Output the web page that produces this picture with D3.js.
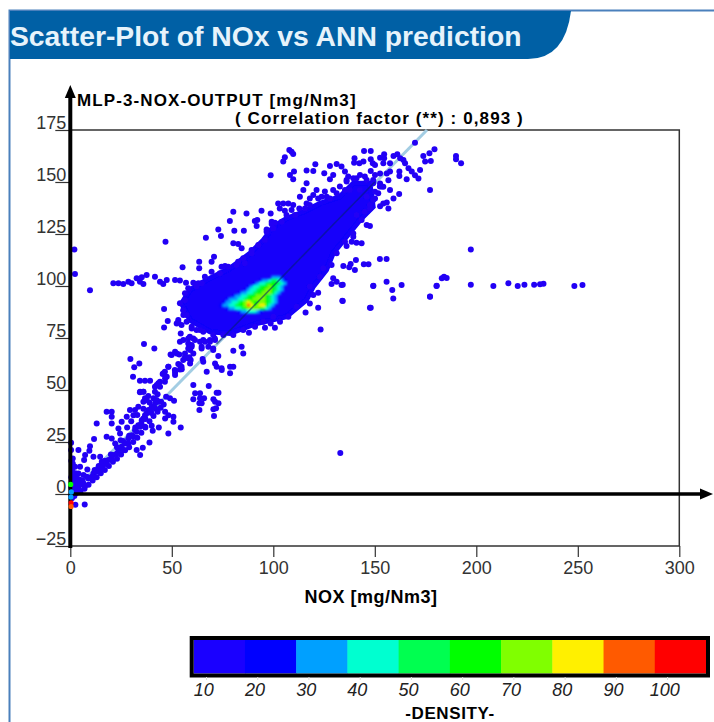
<!DOCTYPE html>
<html>
<head>
<meta charset="utf-8">
<script src="https://cdn.jsdelivr.net/npm/d3@7"></script>
<style>
html, body { margin: 0; padding: 0; background: #fff; overflow: hidden; }
svg { display: block; font-family: "Liberation Sans", Arial, sans-serif; }
</style>
</head>
<body>
<svg id="chart" width="714" height="722"></svg>
<script>
// tick labels
var xTicks = [0, 50, 100, 150, 200, 250, 300];
var yTicks = [-25, 0, 25, 50, 75, 100, 125, 150, 175];

// legend
var densityLabels = [10, 20, 30, 40, 50, 60, 70, 80, 90, 100];
var densityColors = ["#1a00ff", "#0000ff", "#00a0ff", "#00ffd0", "#00ff50",
    "#00ff00", "#80ff00", "#fff000", "#ff5a00", "#ff0000"];

// ideal line, x = y
var idealLine = [[0, 0], [175.7, 175]];
var idealCore = [[72, 72], [150, 150]];

// outline of the solid blue part of the cloud
var cloudOutline = [[54.8,91.6],[58.9,98.1],[67.1,102.9],[78.6,108.5],[88.5,115.7],[95.1,122.1],
    [100,128.5],[106.5,132.5],[114.8,135.7],[123,139.7],[132.8,143],[139.4,149.4],[147.6,149.4],
    [149.2,138.1],[142.7,131.7],[136.1,123.7],[129.5,115.7],[126.2,107.7],[119.7,99.7],[116.4,93.3],
    [106.5,85.2],[91.8,82],[78.6,77.2],[68.8,78],[58.9,83.6]];

// density of the core, one digit per cell (tens of density), top row first
var coreX0 = 72, coreY0 = 105, coreCell = 1.5;
var coreRows = [
    "00000000000000000033320",
    "00000000000000233455432",
    "00000000000023445666543",
    "00000000002344566765430",
    "00000000023445667765430",
    "00000002334456677764300",
    "00000233445667776543000",
    "00023334456677776543000",
    "00233445678766776543000",
    "02334456679867886430000",
    "00023344567777654300000",
    "00000002334443200000000"
];

// points along the rim of the cloud
var rimPoints = [[56.5,93.2],[54,91.7],[55.6,88.4],[57.3,86],[53.2,82.8],[54.8,81.2],[59.8,80.4],[62.2,99.7],
    [64.7,101.3],[66.3,104.5],[69.6,106.9],[73.7,106.1],[77.8,109.3],[82.7,111.7],[86,110.9],[89.3,117.3],
    [92.6,119.7],[95.9,122.1],[96.7,126.1],[100,127.7],[99.2,130.9],[104.1,130.9],[106.5,134.1],[110.7,134.1],
    [115.6,137.3],[118,138.9],[122.1,142.1],[126.3,142.9],[131.2,144.6],[135.3,146.2],[136.1,151],[141,151.8],
    [145.1,152.6],[149.2,151],[62.2,78.8],[65.5,78],[70.4,76.4],[75.4,76.4],[80.3,76.4],[85.2,78.8],[91,80.4],
    [95.1,82.8],[100,85.2],[107.4,85.2],[111.5,90],[118,91.6],[119.7,95.7],[118,99.7],[123,104.5],[124.6,108.5],
    [128.7,110.1],[131.2,115.7],[135.3,121.3],[139.4,123.7],[143.5,131.7],[147.6,137.3],[149.2,141.3],
    [151.7,144.6],[153.3,147.8]];

// points above the cloud
var upperPoints = [[109,164.6],[107.9,165.4],[109.8,163.5],[105.7,161.9],[104.9,159.8],[98.7,153.2],
    [108.2,153.4],[110.2,155],[109.8,151.3],[116.4,155.5],[119.7,155.3],[120.7,158.5],[125.1,154.2],
    [127.9,157.7],[131.2,158.7],[133.6,157.4],[135.3,155],[136.9,152.6],[129.5,153.4],[127.9,151.3],
    [80.3,135.7],[86.8,134.9],[94.2,136.2],[98.7,134.9],[78.6,131.2],[72.9,127.2],[74.2,124],
    [66.8,123.2],[80.8,126.6],[85.5,126.6],[46.9,121.3],[90.9,131.2],[92.1,131.7],[91.8,128.8],
    [80.3,120.5],[82.7,120.2],[84.4,118.1],[70.8,114.1],[69.6,111.7],[63.5,111.7],[63.5,108.5],
    [55.3,109],[74.5,109.3],[76.2,109.6],[81.9,110.1],[85.2,113.3],[89.3,115.7],
    [102.4,139.7],[104.9,139.7],[107.4,139.7],[109.8,138.9],[103.2,137.3],[105.7,136.2],[109,136.5],
    [112.8,137.3],[99.2,129.8],[100.8,130.4],[96.7,127.2],[116.4,139.7],[118,142.1],[114.8,146.2],
    [116.4,149.4],[121.3,146.2],[125.4,145.4],[129.5,146.2],[132.8,147.8],[119.7,143.7],[123.8,142.9],
    [127.9,142.1],[113.1,142.9],[136.1,150.2],[139.4,151.8],[142.7,153.4],[146,151],[149.2,149.4],
    [152.5,147.8],[137.7,146.2],[142.7,146.2],[146,142.9],[147.6,138.9],[145.1,135.7],[141,134.1]];

// points in the upper right end of the cloud
var upperRightPoints = [[144.7,164.9],[148,164.9],[140,161.4],[139.8,159.3],[144.4,159.8],[142.4,159],
    [148,160.9],[149,159],[150.1,158.2],[154.6,163.4],[154.6,161.4],[152.6,161.7],[154.2,159],[157.5,159],
    [159.2,162.5],[161.1,163.3],[162.5,161.4],[164.1,160.6],[164.9,159],[166.6,156.6],[168.2,155],
    [172.3,155.8],[169.8,153.3],[171.5,151.7],[165.7,151.3],[162.1,155],[162.1,152.9],[157.5,155],
    [155.9,154.1],[152.6,154.1],[148,155.3],[150.1,153.4],[149.3,150.1],[152.6,149.3],[156.7,150.9],
    [154.2,147.7],[157.5,146.1],[150.1,145.3],[150.1,142.1],[162,144.2],[159.2,142.1],[155.9,140.2],
    [154.2,139.7],[152.6,138.4],[156.7,137.3],[173.9,162.5],[176.9,163.8],[179.4,165.7],[174.8,159.8],
    [177.6,160.1],[169.8,168.9],[177.2,146.1],[190,162.5],[190,160.9],[192.5,159]];

// points below and right of the cloud
var rightPoints = [[147.6,128.8],[146,129.3],[143.5,120.5],[139.4,125.3],[138.6,121.3],[141,120.8],
    [136.1,119.2],[140.7,112.5],[138.1,110.6],[134.5,109.6],[137.4,109],[140.2,107.7],[144.6,110.4],
    [146.9,110.4],[152.5,113],[155.8,113],[149.2,100],[155.8,102],[158.6,98.1],[163.2,100.5],[159.1,94],
    [147.6,89.6],[134,92.9],[129.5,103.7],[128.7,101],[131.2,102.1],[133.6,100.5],[122.1,96.8],[122.1,89.6],
    [115.9,87.2],[123.3,79.1],[103.3,82.8],[100.8,79.9],[95.9,79.9],[98.7,82],[88,77.5],[180.4,100],[177.2,94.9]];

// the run of points near y = 100 at high NOX, and single outliers
var farPoints = [[197.3,117.6],[134.2,100.6],[149.3,100.1],[177.2,94.8],[180.5,100.1],[183,103.7],
    [184.1,104.5],[185.4,103.8],[197.3,100.6],[208.4,100],[215.8,101.3],[220.4,100],[223.7,100.6],
    [228.5,100.6],[231.4,100.8],[233.1,101.1],[248.3,100],[252.3,100.5],[134.2,92.8],[148,89.5],[133,19.7]];

// the band to the left of the cloud
var leftPoints = [[2,117.5],[2.3,105.8],[9.7,98],[21.2,101.3],[23.7,101.3],[26.1,101],[28.6,102.1],
    [30.2,101.3],[32.7,103.7],[35.2,104.2],[37.6,105.3],[34.3,102.1],[36,101],[41.7,104.5],[44.2,102.1],
    [47.5,102.9],[51.6,102.9],[54,102.6],[57,101.6],[60.6,101.6],[63.1,101.3],[58.1,98.9],[56.5,96.5],
    [45.8,101],[46.2,88.9],[48,83.2],[46.2,80],[53.2,83.6],[52.4,82],[54.4,77.2],[36.3,72.1],[41.4,70],
    [55.7,86],[57.3,82.8],[59.8,79.6],[63.9,78.8],[54,73.2],[55.7,74]];

// cluster between the cloud and the diagonal
var midPoints = [[58.1,74.8],[60.6,74.8],[58.1,72.4],[59.8,70.8],[59,69.2],[63.9,73.2],[66.4,73.2],
    [68.8,74],[71.3,74],[64.7,70.8],[68,70.8],[70.4,70],[51.6,68.4],[49.4,67.1],[53.7,67.1],[56.5,67.6],
    [58.6,65.7],[59.3,64.4],[65.2,64.9],[72.1,61.2],[67.2,58.8],[71.3,62.8],
    [53.2,62.5],[54,59.9],[48.3,61.2],[45.5,57.7],[43.4,53.2],[41.7,51.6],[47.5,56.4],
    [51.6,57.2],[29.6,64.9],[34,62.8],
    [31.5,60.9],[30.9,56.4],[34.3,54.5],[36.8,54.5],[39.3,54.5],[34.3,48.9],[36,49.2],[38.4,47.1],
    [41.7,49.2],[44.2,51.6],[46.6,54],[58.9,75.6],[61.4,74],[59.8,71.6],[65.5,74],[68.8,73.2],
    [71.2,74.8],[64.7,70],[70.4,69.2],[58.1,70],[60.6,67.6],[56.5,66],[49.9,66.8],[52.4,67.6],[55.6,64.4],
    [58.1,65.2],[72.9,66.3],[65.5,63.6],[46.6,58.8],[51.5,59.6],[54.8,61.2],
    [74.5,60.4],[80.3,68.9],[84.4,70.8],[85.2,67.6]];

// the trace along the diagonal, from the origin up
var tracePoints = [[4,2.7],[6.5,5.1],[8.9,7.5],[11.4,9.9],[13.8,12.3],[16.3,13.9],[18.8,16.3],[21.2,18.7],
    [23.7,21.1],[25.3,22.7],[27,24.3],[28.6,26.7],[30.3,28.3],[31.9,30.7],[33.5,33.1],[35.2,35.5],
    [36.8,37.9],[38.5,40.4],[40.1,42],[41.8,43.6],[43.4,44.4],[36.8,46],[34.4,49.2],[36,49.2],[37.6,45.2],
    [42.6,52.4],[44.2,54],[46.7,55.6],[51.6,58.4],[45.9,58],[48.3,61.2],[54,62],[59,62.8],
    [54.9,60],[4.8,1.6],[7.3,3.8],[10.6,8.3],[13,10.7],[15.5,12.3],[17.9,14.7],[20.4,17.1],
    [22.9,19.5],[26.2,21.1],[28.6,24.3],[31.1,27.5],[32.7,29.9],[34.4,32.3],[36,36.3],[37.6,38.8],[39.3,40.4],
    [5,1],[7,2.5],[9,4.5],[11,6.5],[13,8],[15,10],[17,11.5],[19,13.5],[21,15.5],[23,17],[25,19],[27,21],
    [29,22.5],[31,25],[33,27],[35,29.5],[37,32],[39,35],[41,37.5],[43,39.5],[44.5,41.5],[46,43],[12,11.5],
    [14,13.5],[17,16],[20,19],[23,22.5],[26,25.5],[29,28],[32,32],[35,34],[37,36],[40,39],[42,41],
    [43,48],[41,46],[39,44],[36,41],[33,38],[30,35],[28,32]];

// points scattered around the trace
var lowerPoints = [[17.9,39.6],[20.4,39.6],[20.4,37.1],[13,33.9],[25.3,34.7],[23.7,31.5],[24.5,29.1],
    [27.8,37.1],[29.4,40.4],[31.9,40.4],[31.1,37.9],[33.5,42],[36,44.4],[20.4,33.9],[17.9,27.5],[11.7,26.4],
    [20.4,26.7],[22.1,24.3],[24.8,25.9],[9.7,23],[9.4,20.8],[7.3,18.7],[6.8,16.3],[4,21.1],[0.4,21.1],
    [0.4,24.6],[11.4,17.9],[14.7,17.9],[15.5,15.5],[4.8,13.1],[8.4,11.8],[1.2,17.1],[1.2,14.7],[2.3,13.1],
    [1.2,9.9],[4,9.9],[6.5,9.1],[8.1,8.3],[32.7,21.1],[34.4,18.7],[35.7,22.2],[39,24.8],[48.3,29.1],[43.6,32],
    [54.4,32],[40.1,32.8],[40.6,30.4],[36.8,32.3],[46.7,39.6],[48.3,37.9],[50.8,37.1],[50.8,34.7],[46.7,36.3],
    [49.1,46],[51.1,44.8],[47.2,46.8],[44.7,44.4],[42.6,45.2],[60.6,52.4],[68.2,51.9],[63.9,48.4],[61.5,48.4],
    [60.6,45.5],[63.9,46],[65.9,46],[63.6,43.6],[64.7,43.6],[70.5,45.5],[72.1,48.7],[73,48.7],[71.3,44.4],
    [73,43.6],[70.5,40.7],[71.8,41.2],[70.8,37.5],[63.6,40.4],[74.6,59.6],[78.7,61.2],[80.3,61.2],[78.7,58]];

// the corner at the origin
var originPoints = [[0.5,16],[1,12],[0.5,8],[2,7],[3,5],[1.5,4],[0.5,3],[4.5,7],[6,6.5],[3,2],[1.5,0.5],
    [2,-1],[0.8,-2],[2.5,-5.2],[7.1,-5],[1,10],[2.5,10],[1,6],[3,8],[2,3],[4,4],[5,4.5],[3,0.5],[1.5,2],[0.5,-1]];
var originDensity = [[0.2,4.6,60],[0.5,1,30],[0.3,-1.5,30],[0.4,-4.2,100],[0.4,-6,90]];

var svg = d3.select("#chart");

var x = d3.scaleLinear().domain([0, 300]).range([70.3, 679.3]);
var y = d3.scaleLinear().domain([-25, 175]).range([546, 130]);

svg.append("defs").append("filter").attr("id", "soft")
    .append("feGaussianBlur").attr("stdDeviation", 0.45);
d3.select("defs").append("filter").attr("id", "softer")
    .append("feGaussianBlur").attr("stdDeviation", 0.8);

// page frame and header
svg.append("path").attr("d", "M9.5,722V10.5H714").attr("fill", "none")
    .attr("stroke", "#4a80bc").attr("stroke-width", 2);
svg.append("path").attr("d", "M10,11H571Q565,59 528,59H10Z").attr("fill", "#0060a5");
svg.append("text").attr("x", 10).attr("y", 46)
    .attr("font-size", 28.3).attr("font-weight", "bold").attr("fill", "#e6f3fb")
    .text("Scatter-Plot of NOx vs ANN prediction");

// frame of the plot
svg.append("rect").attr("x", x(0)).attr("y", y(175))
    .attr("width", x(300) - x(0)).attr("height", y(-25) - y(175))
    .attr("fill", "none").attr("stroke", "#333").attr("stroke-width", 1.5);

var line = d3.line().x(function(d) { return x(d[0]); }).y(function(d) { return y(d[1]); });

var marks = svg.append("g").attr("filter", "url(#soft)");

marks.append("path").attr("d", line(idealLine)).attr("fill", "none")
    .attr("stroke", "#a3cde3").attr("stroke-width", 3);

marks.append("path").attr("d", line.curve(d3.curveLinearClosed)(cloudOutline))
    .attr("fill", "#1200fa").attr("stroke", "#1200fa").attr("stroke-width", 5);
line.curve(d3.curveLinear);

var allPoints = [].concat(rimPoints, upperPoints, upperRightPoints, rightPoints, farPoints,
    leftPoints, midPoints, tracePoints, lowerPoints, originPoints);

marks.append("g").selectAll("circle").data(allPoints).enter().append("circle")
    .attr("cx", function(d) { return x(d[0]); })
    .attr("cy", function(d) { return y(d[1]); })
    .attr("r", 3)
    .attr("fill", "#2200f5");

var color = d3.scaleOrdinal().domain(densityLabels).range(densityColors);

// density cells of the core
var cells = [];
coreRows.forEach(function(row, r) {
    row.split("").forEach(function(c, i) {
        if (c !== "0") cells.push({ col: i, row: r, value: +c * 10 });
    });
});

svg.append("g").attr("filter", "url(#softer)").selectAll("rect").data(cells).enter().append("rect")
    .attr("x", function(d) { return x(coreX0 + d.col * coreCell); })
    .attr("y", function(d) { return y(coreY0 - d.row * coreCell); })
    .attr("width", x(coreCell) - x(0) + 0.5)
    .attr("height", y(0) - y(coreCell) + 0.5)
    .attr("fill", function(d) { return color(d.value); });

// darker stretch of the ideal line where it crosses the cloud
svg.append("path").attr("d", line(idealCore)).attr("fill", "none")
    .attr("stroke", "#00206e").attr("stroke-width", 1.6).attr("stroke-opacity", 0.55)
    .attr("filter", "url(#soft)");

// axes
var xAxis = svg.append("g").attr("transform", "translate(0," + y(-25) + ")")
    .call(d3.axisBottom(x).tickValues(xTicks).tickSize(11).tickSizeOuter(0).tickPadding(4));
xAxis.select(".domain").remove();
xAxis.selectAll("line").attr("stroke", "#333").attr("stroke-width", 1.2);
xAxis.selectAll("text").attr("font-size", 18).attr("font-family", "Liberation Sans").attr("fill", "#333");

var yAxis = svg.append("g").attr("transform", "translate(" + x(0) + ",0)")
    .call(d3.axisLeft(y).tickValues(yTicks).tickSize(15).tickPadding(-10));
yAxis.select(".domain").remove();
yAxis.selectAll("line").attr("stroke", "#333").attr("stroke-width", 1.2);
yAxis.selectAll("text").attr("font-size", 18).attr("font-family", "Liberation Sans").attr("fill", "#333")
    .attr("text-anchor", "end").attr("x", -4).attr("dy", -1.5);

// heavy arrows over the frame
svg.append("line").attr("x1", x(0)).attr("x2", x(0)).attr("y1", 548).attr("y2", 96)
    .attr("stroke", "#000").attr("stroke-width", 4);
svg.append("path").attr("d", "M" + x(0) + ",85l-5.5,13h11Z").attr("fill", "#000");
svg.append("line").attr("x1", x(0)).attr("x2", 702).attr("y1", y(0)).attr("y2", y(0))
    .attr("stroke", "#000").attr("stroke-width", 3.5);
svg.append("path").attr("d", "M713," + y(0) + "l-13,-5.5v11Z").attr("fill", "#000");

// high density spots at the origin sit on top of the axis
svg.append("g").attr("filter", "url(#soft)").selectAll("circle").data(originDensity).enter().append("circle")
    .attr("cx", function(d) { return x(d[0]); })
    .attr("cy", function(d) { return y(d[1]); })
    .attr("r", 2.6)
    .attr("fill", function(d) { return color(d[2]); });

// titles
svg.append("text").attr("x", 77).attr("y", 106).attr("font-size", 17).attr("font-weight", "bold")
    .attr("letter-spacing", 1.1).text("MLP-3-NOX-OUTPUT [mg/Nm3]");
svg.append("text").attr("x", 235).attr("y", 124).attr("font-size", 17).attr("font-weight", "bold")
    .attr("letter-spacing", 1.1).text("( Correlation factor (**) : 0,893 )");
svg.append("text").attr("x", 371).attr("y", 603).attr("font-size", 18).attr("font-weight", "bold")
    .attr("letter-spacing", 0.5).attr("text-anchor", "middle").text("NOX [mg/Nm3]");

// density legend
var legendX = d3.scaleBand().domain(densityLabels).range([193.7, 706]);
var legendTop = 640, legendHeight = 33.5;

svg.append("g").selectAll("rect").data(densityLabels).enter().append("rect")
    .attr("x", function(d) { return legendX(d); })
    .attr("y", legendTop)
    .attr("width", legendX.bandwidth() + 0.5)
    .attr("height", legendHeight)
    .attr("fill", function(d) { return color(d); });
svg.append("rect").attr("x", 191.7).attr("y", legendTop - 2)
    .attr("width", 516.3).attr("height", legendHeight + 4)
    .attr("fill", "none").attr("stroke", "#000").attr("stroke-width", 4);

svg.append("g").selectAll("line").data(densityLabels).enter().append("line")
    .attr("x1", function(d) { return legendX(d) + legendX.bandwidth() / 4; })
    .attr("x2", function(d) { return legendX(d) + legendX.bandwidth() / 4; })
    .attr("y1", 677).attr("y2", 680).attr("stroke", "#ddd");

svg.append("g").selectAll("text").data(densityLabels).enter().append("text")
    .attr("x", function(d) { return legendX(d) + 10; })
    .attr("y", 696)
    .attr("text-anchor", "middle")
    .attr("font-size", 18).attr("font-style", "italic").attr("fill", "#222")
    .text(function(d) { return d; });

svg.append("text").attr("x", 450).attr("y", 719).attr("font-size", 17).attr("font-weight", "bold")
    .attr("letter-spacing", 0.6).attr("text-anchor", "middle").text("-DENSITY-");
</script>
</body>
</html>
